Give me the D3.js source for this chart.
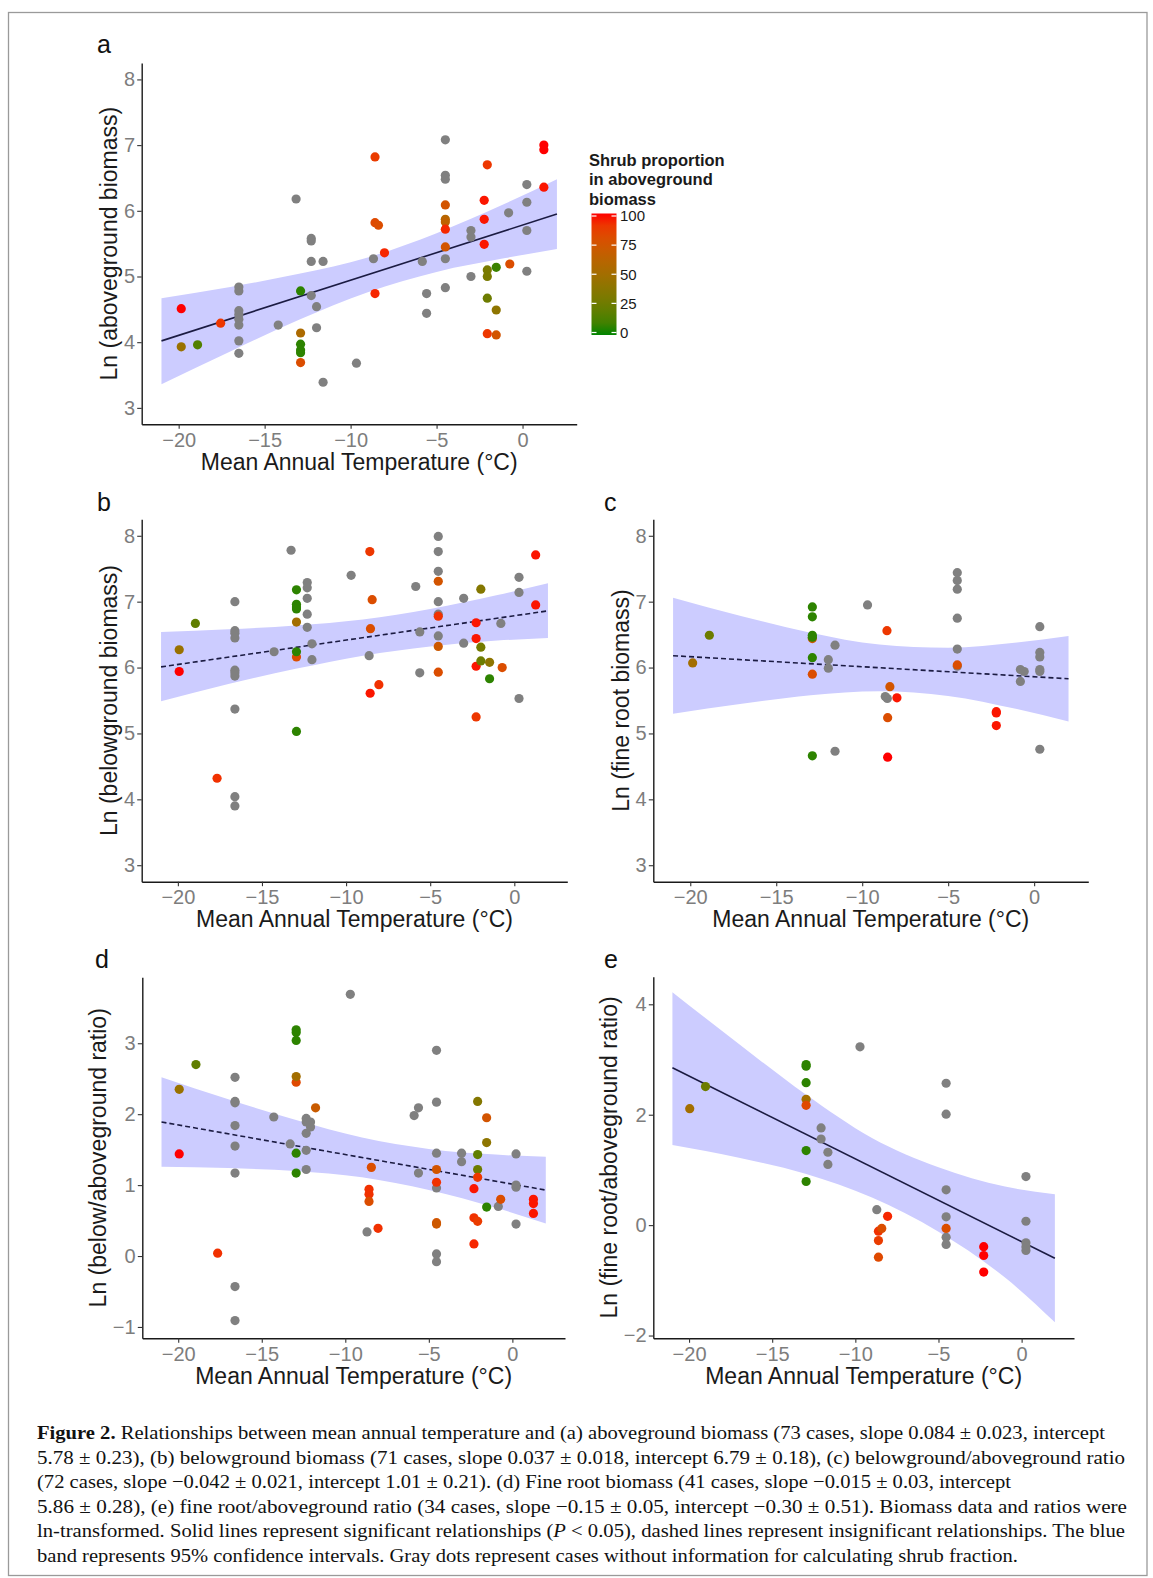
<!DOCTYPE html>
<html>
<head>
<meta charset="utf-8">
<script src="https://cdn.jsdelivr.net/npm/d3@7"></script>
<style>
  body { margin: 0; background: #fff; }
  svg { display: block; }
</style>
</head>
<body>
<div id="fig"></div>
<script>
// points: [mean annual temperature, ln value, shrub % (null = no info, gray)]
var aboveground = [
  [-19.85, 4.51, 100], [-19.85, 3.93, 45], [-18.9, 3.96, 15], [-17.56, 4.29, 90],
  [-16.5, 4.84, null], [-16.5, 4.78, null], [-16.5, 4.48, null], [-16.5, 4.42, null],
  [-16.5, 4.35, null], [-16.5, 4.26, null], [-16.5, 4.02, null], [-16.5, 3.83, null],
  [-14.21, 4.26, null], [-13.17, 6.18, null],
  [-12.91, 4.78, 5], [-12.91, 4.14, 55], [-12.91, 3.97, 5], [-12.91, 3.88, 5], [-12.91, 3.84, 5], [-12.91, 3.69, 80],
  [-12.29, 5.58, null], [-12.29, 5.54, null], [-12.29, 5.23, null], [-12.29, 4.71, null],
  [-11.98, 4.54, null], [-11.98, 4.22, null], [-11.6, 5.23, null], [-11.6, 3.39, null],
  [-9.66, 3.68, null], [-8.67, 5.27, null],
  [-8.58, 6.82, 88], [-8.58, 5.82, 82], [-8.38, 5.78, 80], [-8.58, 4.74, 95], [-8.03, 5.36, 95],
  [-5.83, 5.23, null], [-5.58, 4.74, null], [-5.58, 4.44, null],
  [-4.49, 7.08, null], [-4.49, 6.54, null], [-4.49, 6.48, null], [-4.49, 6.09, 75], [-4.49, 5.87, 60],
  [-4.49, 5.83, 65], [-4.49, 5.72, 95], [-4.49, 5.45, 75], [-4.49, 5.27, null], [-4.49, 4.83, null],
  [-3.0, 5.70, null], [-3.0, 5.60, null], [-3.0, 5.0, null],
  [-2.23, 6.16, 98], [-2.23, 5.87, 98], [-2.23, 5.49, 98],
  [-2.05, 6.70, 90], [-2.05, 5.10, 30], [-2.05, 5.0, 30], [-2.05, 4.67, 25], [-2.05, 4.13, 90],
  [-1.53, 5.14, 8], [-1.53, 4.49, 40], [-1.53, 4.11, 75],
  [-0.74, 5.19, 80], [-0.81, 5.97, null],
  [0.25, 6.40, null], [0.25, 6.13, null], [0.25, 5.70, null], [0.25, 5.08, null],
  [1.24, 7.0, 100], [1.24, 6.93, 100], [1.24, 6.36, 98]
];
var belowground = [
  [-19.92, 6.27, 45], [-19.92, 5.94, 100], [-18.96, 6.67, 20], [-17.67, 4.32, 92],
  [-16.61, 7.0, null], [-16.61, 6.56, null], [-16.61, 6.52, null], [-16.61, 6.45, null], [-16.61, 5.96, null],
  [-16.61, 5.92, null], [-16.61, 5.87, null], [-16.61, 5.37, null], [-16.61, 4.04, null], [-16.61, 3.90, null],
  [-14.28, 6.24, null], [-13.27, 7.78, null],
  [-12.95, 7.18, 5], [-12.95, 6.96, 5], [-12.95, 6.92, 5], [-12.95, 6.89, 5], [-12.95, 6.69, 50],
  [-12.95, 6.16, 80], [-12.95, 6.24, 5], [-12.95, 5.03, 5],
  [-12.31, 7.29, null], [-12.31, 7.21, null], [-12.31, 7.05, null], [-12.31, 6.81, null], [-12.31, 6.61, null],
  [-12.03, 6.36, null], [-12.03, 6.12, null], [-9.7, 7.40, null], [-8.63, 6.18, null],
  [-8.59, 7.76, 90], [-8.45, 7.03, 80], [-8.55, 6.59, 80], [-8.57, 5.61, 98], [-8.05, 5.74, 92],
  [-5.86, 7.23, null], [-5.62, 6.54, null], [-5.62, 5.92, null],
  [-4.52, 7.99, null], [-4.52, 7.76, null], [-4.52, 7.46, null], [-4.52, 7.31, 75], [-4.52, 7.0, null],
  [-4.52, 6.81, null], [-4.52, 6.78, 92], [-4.52, 6.48, null], [-4.52, 6.32, 72], [-4.52, 5.93, 80],
  [-3.01, 7.05, null], [-3.01, 6.37, null],
  [-2.27, 6.68, 98], [-2.27, 6.44, 98], [-2.27, 6.02, 98], [-2.27, 5.25, 90],
  [-1.99, 7.19, 35], [-1.99, 6.31, 28], [-1.99, 6.10, 25], [-1.47, 6.08, 40], [-1.47, 5.83, 5],
  [-0.8, 6.67, null], [-0.72, 6.0, 80],
  [0.28, 7.37, null], [0.28, 7.14, null], [0.28, 5.53, null],
  [1.27, 7.71, 98], [1.27, 6.95, 98]
];
var fineroot = [
  [-19.86, 6.07, 50], [-18.89, 6.49, 25],
  [-12.9, 6.44, 72], [-12.9, 6.92, 5], [-12.9, 6.77, 5], [-12.9, 6.49, 5], [-12.9, 6.46, 5],
  [-12.9, 6.15, 5], [-12.9, 5.90, 80], [-12.9, 4.66, 5],
  [-11.97, 6.12, null], [-11.97, 5.99, null], [-11.58, 6.34, null], [-11.58, 4.73, null],
  [-9.69, 6.95, null], [-8.66, 5.56, null], [-8.54, 5.53, null],
  [-8.56, 6.56, 90], [-8.39, 5.71, 75], [-8.52, 5.24, 80], [-8.52, 4.64, 100], [-7.98, 5.54, 98],
  [-4.47, 7.44, null], [-4.47, 7.32, null], [-4.47, 7.19, null], [-4.47, 6.75, null], [-4.47, 6.28, null],
  [-4.47, 6.02, null], [-4.47, 6.04, 80],
  [-2.2, 5.33, 98], [-2.2, 5.31, 98], [-2.2, 5.12, 98],
  [-0.8, 5.97, null], [-0.8, 5.79, null], [-0.58, 5.94, null],
  [0.33, 6.62, null], [0.33, 6.23, null], [0.33, 6.16, null], [0.33, 5.97, null], [0.33, 5.94, null], [0.33, 4.76, null]
];
var rootShoot = [
  [-19.94, 2.35, 45], [-19.94, 1.44, 100], [-18.94, 2.70, 20], [-17.64, 0.04, 92],
  [-16.6, 2.52, null], [-16.6, 2.18, null], [-16.6, 2.16, null], [-16.6, 1.84, null],
  [-16.6, 1.55, null], [-16.6, 1.17, null], [-16.6, -0.43, null], [-16.6, -0.91, null],
  [-14.28, 1.96, null], [-13.3, 1.58, null],
  [-12.94, 3.19, 5], [-12.94, 3.15, 5], [-12.94, 3.04, 5], [-12.94, 2.45, 82], [-12.94, 2.53, 50],
  [-12.94, 1.45, 5], [-12.94, 1.17, 5],
  [-12.34, 1.94, null], [-12.34, 1.89, null], [-12.34, 1.73, null], [-12.34, 1.49, null], [-12.34, 1.22, null],
  [-12.08, 1.89, null], [-12.08, 1.82, null], [-11.78, 2.09, 70],
  [-9.7, 3.69, null], [-8.7, 0.34, null],
  [-8.44, 1.25, 80], [-8.58, 0.94, 92], [-8.58, 0.87, 92], [-8.58, 0.77, 80], [-8.04, 0.39, 92],
  [-5.88, 1.98, null], [-5.62, 2.09, null], [-5.62, 1.17, null],
  [-4.54, 2.90, null], [-4.54, 2.17, null], [-4.54, 1.45, null], [-4.54, 0.96, null], [-4.54, 1.22, 75],
  [-4.54, 1.04, 92], [-4.54, 0.47, 75], [-4.54, 0.45, 72], [-4.54, 0.03, null], [-4.54, -0.08, null],
  [-3.04, 1.45, null], [-3.04, 1.33, null],
  [-2.3, 0.95, 98], [-2.3, 0.54, 92], [-2.3, 0.17, 95],
  [-2.08, 2.18, 35], [-2.08, 1.43, 20], [-2.08, 1.22, 25], [-2.08, 1.11, 90], [-2.08, 0.49, 88],
  [-1.54, 1.95, 75], [-1.54, 1.6, 40], [-1.54, 0.69, 5],
  [-0.84, 0.70, null], [-0.7, 0.80, 80],
  [0.22, 1.44, null], [0.22, 1.0, null], [0.22, 0.97, null], [0.22, 0.45, null],
  [1.26, 0.80, 98], [1.26, 0.74, 98], [1.26, 0.60, 98]
];
var fineRootShoot = [
  [-19.96, 2.11, 50], [-19.01, 2.51, 25],
  [-12.96, 2.91, 5], [-12.96, 2.88, 5], [-12.96, 2.58, 5], [-12.96, 2.28, 50], [-12.96, 2.17, 82],
  [-12.96, 1.35, 5], [-12.96, 0.79, 5],
  [-12.06, 1.76, null], [-12.06, 1.56, null], [-11.65, 1.32, null], [-11.65, 1.10, null],
  [-9.72, 3.23, null], [-8.71, 0.28, null],
  [-8.61, -0.11, 92], [-8.61, -0.28, 88], [-8.61, -0.58, 82], [-8.41, -0.06, 80], [-8.06, 0.16, 95],
  [-4.54, 2.57, null], [-4.54, 2.01, null], [-4.54, 0.64, null], [-4.54, 0.15, null],
  [-4.54, -0.22, null], [-4.54, -0.35, null], [-4.54, -0.06, 80],
  [-2.28, -0.39, 100], [-2.28, -0.55, 100], [-2.28, -0.85, 100],
  [0.26, 0.88, null], [0.26, 0.07, null], [0.26, -0.32, null], [0.26, -0.39, null], [0.26, -0.46, null]
];

// fitted lines (end points) and 95% bands read at bandX
var fitAbove = [[-21, 4.02], [2, 5.95]];
var fitBelow = [[-21, 6.01], [2, 6.86]];
var fitFine = [[-21, 6.18], [2, 5.83]];
var fitRatio = [[-21, 1.89], [2, 0.93]];
var fitFineRatio = [[-21, 2.85], [2, -0.60]];

var bandX = [-21, -17, -13, -9, -5, -1, 2];
var bandAboveHi = [4.67, 4.84, 5.04, 5.29, 5.66, 6.11, 6.48];
var bandAboveLo = [3.36, 3.86, 4.34, 4.76, 5.07, 5.28, 5.42];
var bandBelowHi = [6.54, 6.58, 6.64, 6.73, 6.89, 7.10, 7.28];
var bandBelowLo = [5.49, 5.75, 5.98, 6.18, 6.32, 6.41, 6.45];
var bandFineHi = [7.06, 6.78, 6.53, 6.35, 6.30, 6.38, 6.48];
var bandFineLo = [5.30, 5.45, 5.58, 5.64, 5.57, 5.37, 5.18];
var bandRatioHi = [2.52, 2.21, 1.92, 1.67, 1.51, 1.43, 1.40];
var bandRatioLo = [1.26, 1.24, 1.20, 1.11, 0.93, 0.68, 0.46];
var bandFineRatioHi = [4.22, 3.28, 2.37, 1.58, 1.05, 0.70, 0.56];
var bandFineRatioLo = [1.45, 1.22, 0.93, 0.50, -0.12, -0.95, -1.76];

var xTicks = [-20, -15, -10, -5, 0];
var ticksBiomass = [3, 4, 5, 6, 7, 8];
var ticksRatio = [-1, 0, 1, 2, 3];
var ticksFineRatio = [-2, 0, 2, 4];
var legendTicks = [0, 25, 50, 75, 100];

var W = 1153, H = 1578;
var sans = "'Liberation Sans', Arial, Helvetica, sans-serif";
var fmt = d3.format("d");

var svg = d3.select("#fig").append("svg")
  .attr("width", W)
  .attr("height", H);

svg.append("rect")
  .attr("x", 8.5).attr("y", 12.5)
  .attr("width", 1138.5).attr("height", 1563)
  .attr("fill", "none")
  .attr("stroke", "#9a9a9a")
  .attr("stroke-width", 1.3);

var shrubColor = d3.scaleLinear()
  .domain([0, 100])
  .range(["#008400", "#ff0000"])
  .interpolate(d3.interpolateLab);

var panels = [
  { tag: "a", pts: aboveground, fit: fitAbove, hi: bandAboveHi, lo: bandAboveLo, dashed: false,
    yTicks: ticksBiomass, yDom: [2.75, 8.25], title: "Ln (aboveground biomass)",
    box: { l: 141.7, r: 576.7, t: 63, b: 424.3 }, tagPos: [97, 53] },
  { tag: "b", pts: belowground, fit: fitBelow, hi: bandBelowHi, lo: bandBelowLo, dashed: true,
    yTicks: ticksBiomass, yDom: [2.75, 8.25], title: "Ln (belowground biomass)",
    box: { l: 141.7, r: 567.3, t: 519.3, b: 881.7 }, tagPos: [97, 511] },
  { tag: "c", pts: fineroot, fit: fitFine, hi: bandFineHi, lo: bandFineLo, dashed: true,
    yTicks: ticksBiomass, yDom: [2.75, 8.25], title: "Ln (fine root biomass)",
    box: { l: 653.3, r: 1088.3, t: 519.3, b: 881.7 }, tagPos: [604, 511] },
  { tag: "d", pts: rootShoot, fit: fitRatio, hi: bandRatioHi, lo: bandRatioLo, dashed: true,
    yTicks: ticksRatio, yDom: [-1.16, 3.93], title: "Ln (below/aboveground ratio)",
    box: { l: 142.3, r: 565, t: 977.3, b: 1338.3 }, tagPos: [95, 968] },
  { tag: "e", pts: fineRootShoot, fit: fitFineRatio, hi: bandFineRatioHi, lo: bandFineRatioLo, dashed: false,
    yTicks: ticksFineRatio, yDom: [-2.05, 4.5], title: "Ln (fine root/aboveground ratio)",
    box: { l: 653.3, r: 1074, t: 976.7, b: 1338.3 }, tagPos: [604, 968] }
];

panels.forEach(function (p) {
  var x = d3.scaleLinear().domain([-22.15, 3.15]).range([p.box.l, p.box.r]);
  var y = d3.scaleLinear().domain(p.yDom).range([p.box.b, p.box.t]);
  var g = svg.append("g").attr("class", "panel-" + p.tag);

  // confidence band
  var band = bandX.map(function (v, i) { return { x: v, hi: p.hi[i], lo: p.lo[i] }; });
  g.append("path")
    .datum(band)
    .attr("fill", "#ccccff")
    .attr("d", d3.area()
      .curve(d3.curveMonotoneX)
      .x(function (d) { return x(d.x); })
      .y0(function (d) { return y(d.lo); })
      .y1(function (d) { return y(d.hi); }));

  // fitted line
  g.append("path")
    .datum(p.fit)
    .attr("fill", "none")
    .attr("stroke", "#1b1b42")
    .attr("stroke-width", 1.6)
    .attr("stroke-dasharray", p.dashed ? "5,3" : null)
    .attr("d", d3.line()
      .x(function (d) { return x(d[0]); })
      .y(function (d) { return y(d[1]); }));

  // points
  g.append("g").selectAll("circle")
    .data(p.pts)
    .enter().append("circle")
    .attr("cx", function (d) { return x(d[0]); })
    .attr("cy", function (d) { return y(d[1]); })
    .attr("r", 4.6)
    .attr("fill", function (d) { return d[2] === null ? "#808080" : shrubColor(d[2]); });

  // axes
  var xAxis = g.append("g")
    .attr("transform", "translate(0," + p.box.b + ")")
    .call(d3.axisBottom(x).tickValues(xTicks).tickFormat(fmt)
      .tickSize(4.5).tickSizeOuter(0).tickPadding(3.6));
  var yAxis = g.append("g")
    .attr("transform", "translate(" + p.box.l + ",0)")
    .call(d3.axisLeft(y).tickValues(p.yTicks).tickFormat(fmt)
      .tickSize(4.5).tickSizeOuter(0).tickPadding(2.2));

  [xAxis, yAxis].forEach(function (ax) {
    ax.select(".domain").attr("stroke", "#1a1a1a").attr("stroke-width", 1.4);
    ax.selectAll(".tick line").attr("stroke", "#333").attr("stroke-width", 1.1);
    ax.selectAll(".tick text")
      .attr("fill", "#7d7d7d")
      .style("font-family", sans)
      .style("font-size", "20px");
  });

  var maxW = 0;
  yAxis.selectAll(".tick text").each(function () {
    maxW = Math.max(maxW, this.getComputedTextLength());
  });

  // axis titles
  g.append("text")
    .attr("x", (p.box.l + p.box.r) / 2)
    .attr("y", p.box.b + 45.5)
    .attr("text-anchor", "middle")
    .attr("fill", "#1a1a1a")
    .style("font-family", sans)
    .style("font-size", "23px")
    .text("Mean Annual Temperature (\u00B0C)");

  var tx = p.box.l - 4.5 - 2.2 - maxW - 6.5;
  var ty = (p.box.t + p.box.b) / 2;
  g.append("text")
    .attr("transform", "translate(" + tx + "," + ty + ") rotate(-90)")
    .attr("text-anchor", "middle")
    .attr("fill", "#1a1a1a")
    .style("font-family", sans)
    .style("font-size", "23px")
    .text(p.title);

  // panel tag
  g.append("text")
    .attr("x", p.tagPos[0])
    .attr("y", p.tagPos[1])
    .attr("fill", "#111")
    .style("font-family", sans)
    .style("font-size", "25px")
    .text(p.tag);
});

// colour bar legend
var leg = svg.append("g").attr("class", "legend");
["Shrub proportion", "in aboveground", "biomass"].forEach(function (t, i) {
  leg.append("text")
    .attr("x", 589)
    .attr("y", 165.5 + i * 19.5)
    .attr("fill", "#1a1a1a")
    .style("font-family", sans)
    .style("font-size", "16.5px")
    .style("font-weight", "bold")
    .text(t);
});

var ly = d3.scaleLinear().domain([0, 100]).range([332.5, 216]);
var grad = svg.append("defs").append("linearGradient")
  .attr("id", "shrubGrad")
  .attr("x1", 0).attr("y1", 1).attr("x2", 0).attr("y2", 0);
d3.range(0, 101, 10).forEach(function (v) {
  grad.append("stop")
    .attr("offset", (v / 100))
    .attr("stop-color", shrubColor(v));
});
leg.append("rect")
  .attr("x", 591.5).attr("y", ly(100) - 2.5)
  .attr("width", 25).attr("height", ly(0) - ly(100) + 5)
  .attr("fill", "url(#shrubGrad)");

var lt = leg.selectAll(".ltick")
  .data(legendTicks)
  .enter().append("g")
  .attr("class", "ltick")
  .attr("transform", function (d) { return "translate(0," + ly(d) + ")"; });
lt.append("line").attr("x1", 591.5).attr("x2", 596.5).attr("stroke", "#fff").attr("stroke-width", 1.2);
lt.append("line").attr("x1", 611.5).attr("x2", 616.5).attr("stroke", "#fff").attr("stroke-width", 1.2);
lt.append("text")
  .attr("x", 620)
  .attr("dy", "0.35em")
  .attr("fill", "#1a1a1a")
  .style("font-family", sans)
  .style("font-size", "15px")
  .text(function (d) { return d; });

// caption
var capFont = "'Liberation Serif', 'Times New Roman', serif";
var capLines = [
  { parts: [["Figure 2.", "bold"], [" Relationships between mean annual temperature and (a) aboveground biomass (73 cases, slope 0.084 \u00B1 0.023, intercept", ""]], w: 1068 },
  { parts: [["5.78 \u00B1 0.23), (b) belowground biomass (71 cases, slope 0.037 \u00B1 0.018, intercept 6.79 \u00B1 0.18), (c) belowground/aboveground ratio", ""]], w: 1088 },
  { parts: [["(72 cases, slope \u22120.042 \u00B1 0.021, intercept 1.01 \u00B1 0.21). (d) Fine root biomass (41 cases, slope \u22120.015 \u00B1 0.03, intercept", ""]], w: 974 },
  { parts: [["5.86 \u00B1 0.28), (e) fine root/aboveground ratio (34 cases, slope \u22120.15 \u00B1 0.05, intercept \u22120.30 \u00B1 0.51). Biomass data and ratios were", ""]], w: 1090 },
  { parts: [["ln-transformed. Solid lines represent significant relationships (", ""], ["P", "italic"], [" < 0.05), dashed lines represent insignificant relationships. The blue", ""]], w: 1088 },
  { parts: [["band represents 95% confidence intervals. Gray dots represent cases without information for calculating shrub fraction.", ""]], w: 981 }
];
capLines.forEach(function (line, i) {
  var t = svg.append("text")
    .attr("x", 37)
    .attr("y", 1439 + i * 24.6)
    .attr("fill", "#111")
    .attr("textLength", line.w)
    .attr("lengthAdjust", "spacingAndGlyphs")
    .style("font-family", capFont)
    .style("font-size", "19px");
  line.parts.forEach(function (pt) {
    t.append("tspan")
      .style("font-weight", pt[1] === "bold" ? "bold" : null)
      .style("font-style", pt[1] === "italic" ? "italic" : null)
      .text(pt[0]);
  });
});
</script>
</body>
</html>
